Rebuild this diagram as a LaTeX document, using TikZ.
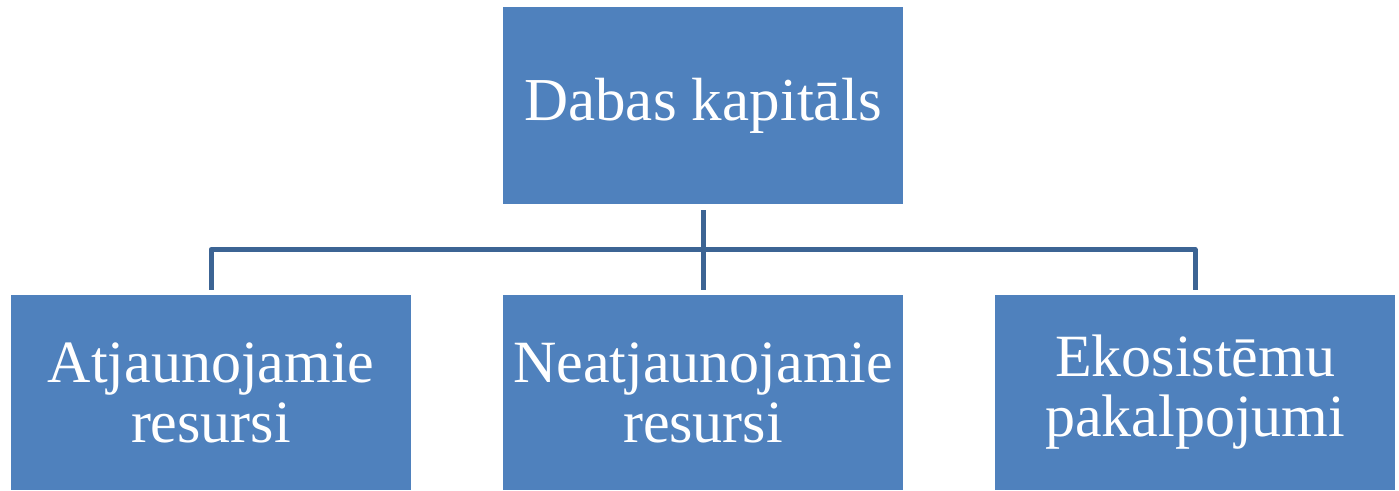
\documentclass[tikz,border=0pt]{standalone}
\usepackage{fontspec}
\setmainfont{Liberation Serif}
\usetikzlibrary{calc}
\definecolor{boxblue}{HTML}{4F81BD}
\definecolor{linkblue}{HTML}{3C6494}
\begin{document}
\begin{tikzpicture}[x=1pt,y=-1pt,
  box/.style={fill=boxblue,draw=none,inner sep=0pt,text width=400pt,minimum height=#1,text=white,align=center,font=\fontsize{60}{60}\selectfont},
  topbox/.style={fill=boxblue,draw=none,inner sep=0pt,minimum width=400pt,minimum height=197pt,text=white,font=\fontsize{61}{60}\selectfont},
  conn/.style={draw=linkblue,line width=5pt,line join=round}]
\useasboundingbox (0,0) rectangle (1399,490);
\node[topbox] (top) at (703,105.5) {Dabas kapitāls};
\node[box=195pt] (b1) at (211,392.5) {Atjaunojamie\\resursi};
\node[box=195pt] (b2) at (703,392.5) {Neatjaunojamie\\resursi};
\node[box=195pt] (b3) at (1195,392.5) {Ekosistēmu\\pakalpojumi};
\coordinate (bus) at ($(top.south)!0.5!(b2.north)$);
\draw[conn] ([yshift=-6pt]top.south) -- ([yshift=5pt]b2.north);
\draw[conn] ([yshift=5pt]b1.north) |- (bus) -| ([yshift=5pt]b3.north);
\end{tikzpicture}
\end{document}
